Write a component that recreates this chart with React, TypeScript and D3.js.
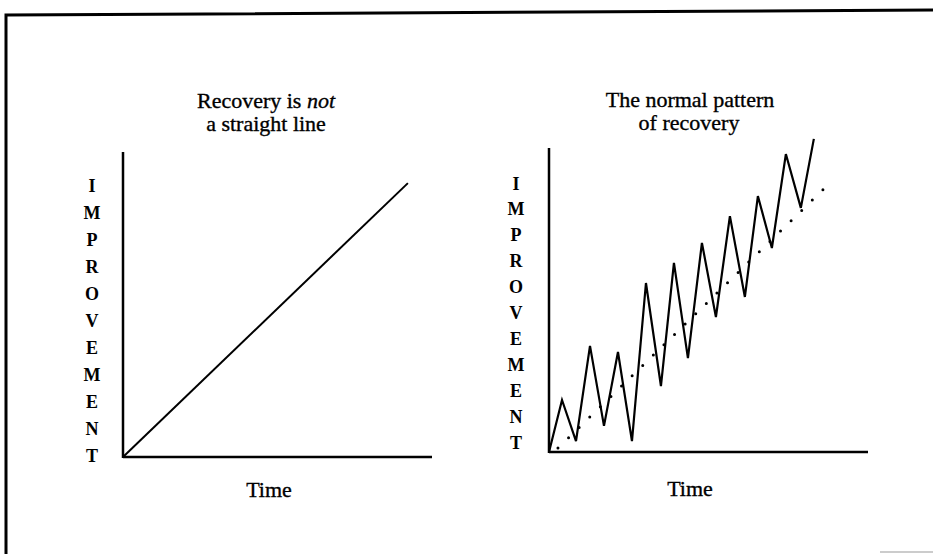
import React from "react";
import * as d3 from "d3";

const W = 933;
const H = 554;

// Left chart: straight line (time, improvement)
const straightTimes = [0, 9.22];
const straightValues = [0, 89.8];

// Right chart: zigzag recovery pattern
const zigTimes = [0, 0.93, 1.93, 2.93, 3.93, 4.93, 5.93, 6.93, 8.0, 8.93, 9.93, 10.93, 11.93, 12.93, 14.0, 14.93, 15.93, 16.93, 18.0, 18.93];
const zigValues = [0, 17.1, 3.6, 34.9, 8.6, 32.9, 3.6, 55.6, 21.7, 62.2, 30.9, 68.8, 44.4, 77.6, 51.0, 84.2, 67.1, 98.0, 80.3, 103.0];

// Right chart: dotted trend
const trendTimes = [0.64, 20.3];
const trendValues = [1.3, 89.5];

const axisLetters = ["I", "M", "P", "R", "O", "V", "E", "M", "E", "N", "T"];

const titleLeft1 = "Recovery is ";
const titleLeft1Italic = "not";
const titleLeft2 = "a straight line";
const titleRight1 = "The normal pattern";
const titleRight2 = "of recovery";
const xLabel = "Time";

const serif = "'Liberation Serif', 'Times New Roman', serif";

export default function App() {
  // left scales
  const xL = d3.scaleLinear().domain([0, 10]).range([123, 432]);
  const yL = d3.scaleLinear().domain([0, 100]).range([457, 152]);
  // right scales
  const xR = d3.scaleLinear().domain([0, 22.8]).range([549, 868]);
  const yR = d3.scaleLinear().domain([0, 100]).range([452, 148]);

  const lineL = d3
    .line<number>()
    .x((_, i) => xL(straightTimes[i]))
    .y((d) => yL(d));
  const lineZ = d3
    .line<number>()
    .x((_, i) => xR(zigTimes[i]))
    .y((d) => yR(d));
  const lineT = d3
    .line<number>()
    .x((_, i) => xR(trendTimes[i]))
    .y((d) => yR(d));

  const letterScaleL = d3.scaleLinear().domain([0, axisLetters.length - 1]).range([185, 455]);
  const letterScaleR = d3.scaleLinear().domain([0, axisLetters.length - 1]).range([183, 442]);

  const textStyle = { stroke: "#000", strokeWidth: 0.35 };

  return (
    <svg
      width={W}
      height={H}
      style={{ position: "absolute", left: 0, top: 0, background: "#fff" }}
      xmlns="http://www.w3.org/2000/svg"
    >
      <rect x={0} y={0} width={W} height={H} fill="#fff" />
      {/* frame */}
      <path d="M6,554 L6,15 L933,10" fill="none" stroke="#000" strokeWidth={3} />
      <line x1={880} y1={552} x2={933} y2={552} stroke="#ccc" strokeWidth={2} />

      {/* Left chart */}
      <text x={266} y={108} textAnchor="middle" fontFamily={serif} fontSize={22} fill="#000" style={textStyle}>
        {titleLeft1}
        <tspan fontStyle="italic">{titleLeft1Italic}</tspan>
      </text>
      <text x={266} y={131} textAnchor="middle" fontFamily={serif} fontSize={22} fill="#000" style={textStyle}>
        {titleLeft2}
      </text>
      <line x1={xL(0)} y1={yL(100)} x2={xL(0)} y2={yL(0) + 1} stroke="#000" strokeWidth={2.5} />
      <line x1={xL(0)} y1={yL(0)} x2={xL(10)} y2={yL(0)} stroke="#000" strokeWidth={2.5} />
      <path d={lineL(straightValues) || ""} fill="none" stroke="#000" strokeWidth={2} />
      {axisLetters.map((l, i) => (
        <text
          key={"l" + i}
          x={92}
          y={letterScaleL(i) + 6.5}
          textAnchor="middle"
          fontFamily={serif}
          fontWeight="bold"
          fontSize={18}
          fill="#000"
        >
          {l}
        </text>
      ))}
      <text x={269} y={497} textAnchor="middle" fontFamily={serif} fontSize={22} fill="#000" style={textStyle}>
        {xLabel}
      </text>

      {/* Right chart */}
      <text x={690} y={107} textAnchor="middle" fontFamily={serif} fontSize={22} fill="#000" style={textStyle}>
        {titleRight1}
      </text>
      <text x={689} y={130} textAnchor="middle" fontFamily={serif} fontSize={22} fill="#000" style={textStyle}>
        {titleRight2}
      </text>
      <line x1={xR(0)} y1={yR(100)} x2={xR(0)} y2={yR(0) + 1} stroke="#000" strokeWidth={2.5} />
      <line x1={xR(0)} y1={yR(0)} x2={xR(22.8)} y2={yR(0)} stroke="#000" strokeWidth={2.5} />
      <path
        d={lineT(trendValues) || ""}
        fill="none"
        stroke="#000"
        strokeWidth={3}
        strokeLinecap="round"
        strokeDasharray="0 14.8"
      />
      <path d={lineZ(zigValues) || ""} fill="none" stroke="#000" strokeWidth={2.2} strokeLinejoin="miter" />
      {axisLetters.map((l, i) => (
        <text
          key={"r" + i}
          x={516}
          y={letterScaleR(i) + 6.5}
          textAnchor="middle"
          fontFamily={serif}
          fontWeight="bold"
          fontSize={18}
          fill="#000"
        >
          {l}
        </text>
      ))}
      <text x={690} y={496} textAnchor="middle" fontFamily={serif} fontSize={22} fill="#000" style={textStyle}>
        {xLabel}
      </text>
    </svg>
  );
}
